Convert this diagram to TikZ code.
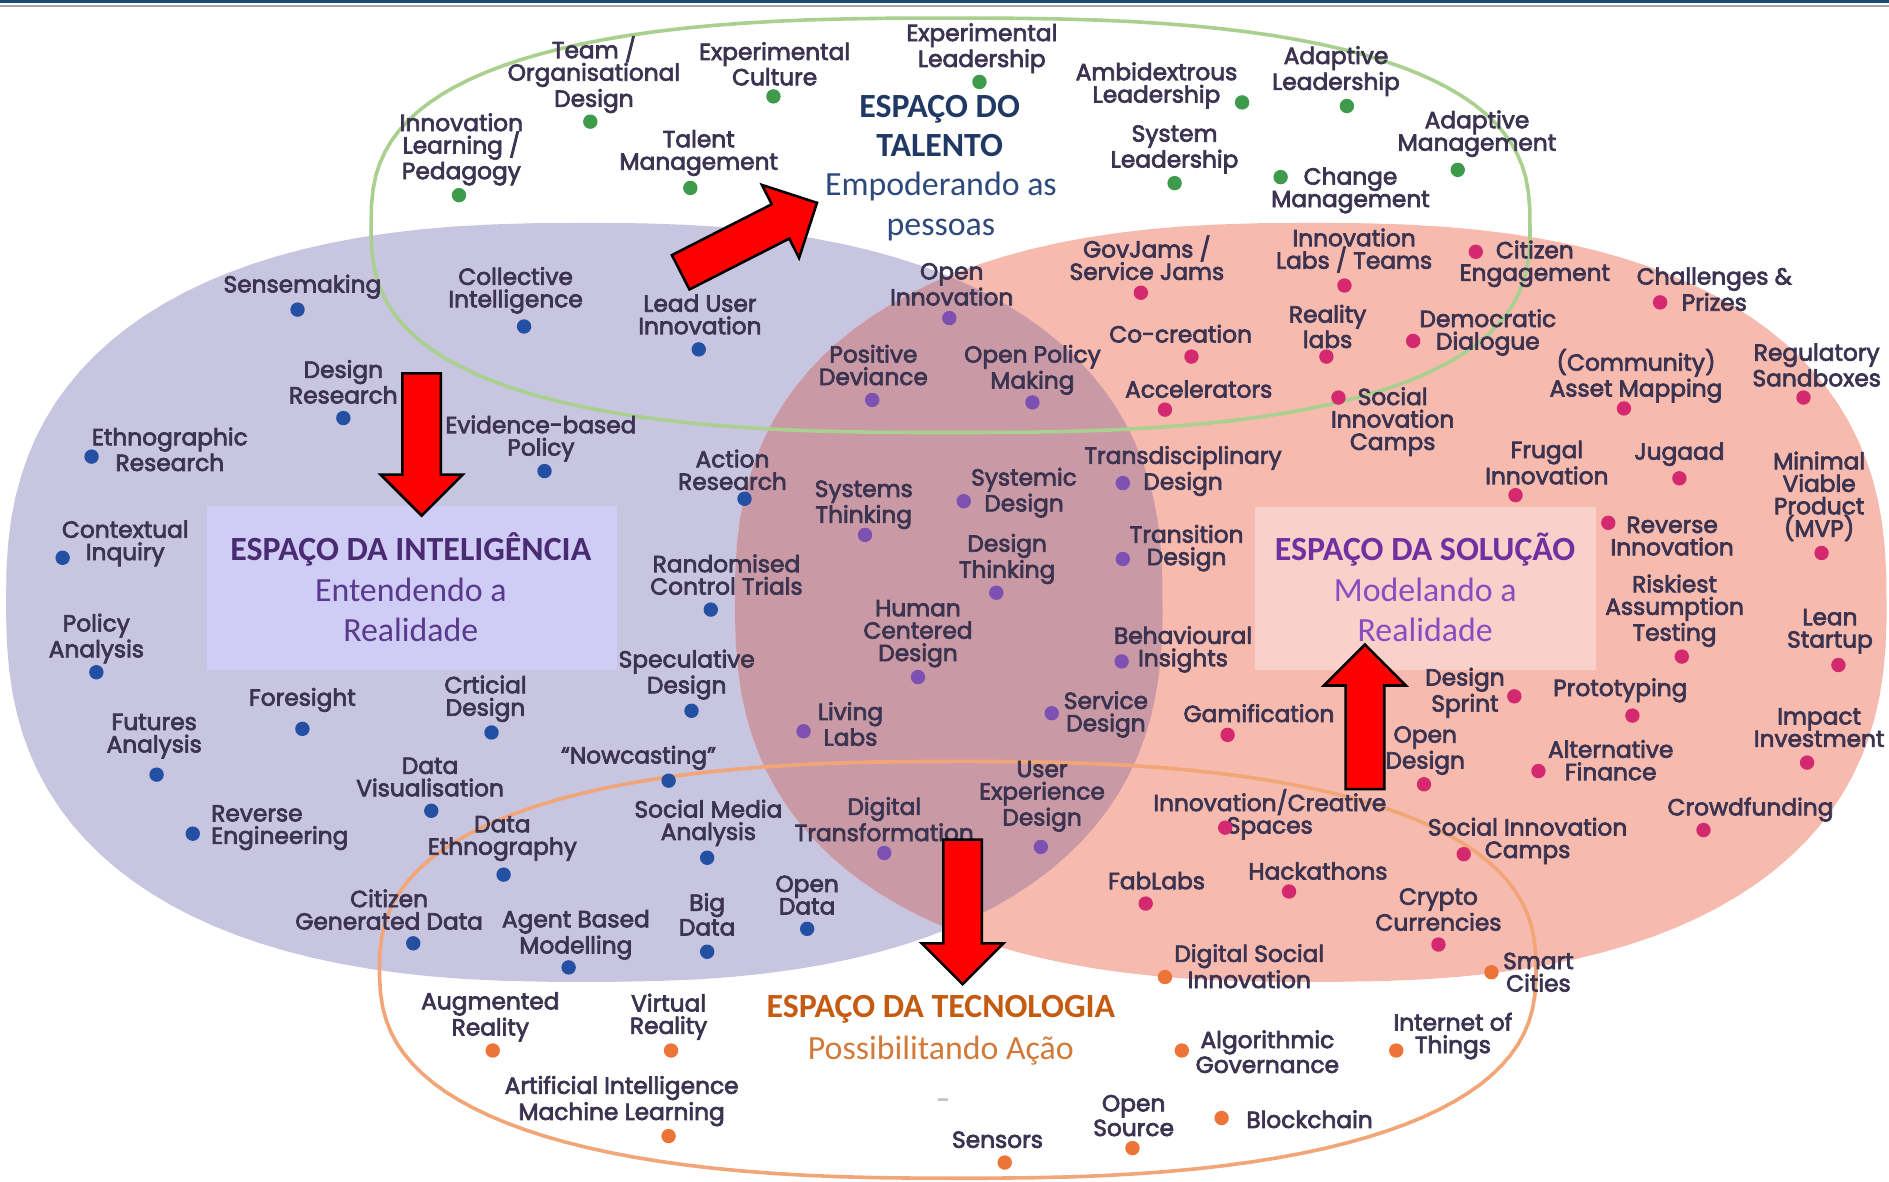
\documentclass[tikz,border=0pt]{standalone}
\usepackage{fontspec}
\setmainfont{Poppins}[FakeBold=3]
\newfontfamily\titlefont{Carlito}
\usepackage{tikz}
\usetikzlibrary{positioning}

\definecolor{ink}{HTML}{3B3350}
\definecolor{lavblob}{HTML}{C7C5E0}
\definecolor{pinkblob}{HTML}{F6BAAF}
\definecolor{mixblob}{HTML}{C99AA5}
\definecolor{greenring}{HTML}{A9D08E}
\definecolor{orangering}{HTML}{F2A577}
\definecolor{dgreen}{HTML}{3F9B4C}
\definecolor{dblue}{HTML}{2450A4}
\definecolor{dpurple}{HTML}{7C51B2}
\definecolor{dpink}{HTML}{D5296F}
\definecolor{dorange}{HTML}{EC7436}
\definecolor{boxlav}{HTML}{CFCCF6}
\definecolor{boxpink}{HTML}{FAD0CA}
\definecolor{topnavy}{HTML}{1B4A72}
\definecolor{talentnavy}{HTML}{1F3864}
\definecolor{talentsub}{HTML}{2E4A7D}
\definecolor{intelcol}{HTML}{4A2B72}
\definecolor{intelsub}{HTML}{5A3A8C}
\definecolor{solcol}{HTML}{7030A0}
\definecolor{solsub}{HTML}{8A4CC0}
\definecolor{techcol}{HTML}{C55A11}
\definecolor{techsub}{HTML}{D27A3A}

\newcommand{\blob}[5]{plot[domain=1:361,samples=120,variable=\t]
  ({#1+#3*sign(cos(\t))*abs(cos(\t))^#5},{#2+#4*sign(sin(\t))*abs(sin(\t))^#5})}

\newcommand{\redarrow}[3]{%
  \begin{scope}[shift={(#1)},rotate=#2]
    \draw[bigarrow] (0,-16) -- (#3-34,-16) -- (#3-34,-34) -- (#3,0)
      -- (#3-34,34) -- (#3-34,16) -- (0,16) -- cycle;
  \end{scope}}

\tikzset{
  lbl/.style={font=\fontsize{11}{10.6}\selectfont, text=ink, align=center, inner sep=0pt},
  spot/.style={circle, fill=#1, inner sep=0pt, minimum size=6.8pt},
  ttl/.style={font=\titlefont\bfseries\fontsize{16}{18.7}\selectfont, align=center, inner sep=0pt},
  sub/.style={font=\titlefont\fontsize{16}{18.7}\selectfont, align=center, inner sep=0pt},
  bigarrow/.style={fill=red, draw=black, line width=1.2pt, line join=miter},
  ring/.style={draw=#1, line width=1.7pt}
}

\begin{document}
\begin{tikzpicture}[x=0.02cm,y=-0.02cm]

            \useasboundingbox (0,0) rectangle (1568,981);
            \fill[white] (0,0) rectangle (1568,981);
            \fill[topnavy] (0,0) rectangle (1568,2.5);
            \fill[gray!70] (0,4) rectangle (1568,5.5);

            \fill[lavblob] \blob{485}{500}{480}{315}{0.8} -- cycle;
            \fill[pinkblob] \blob{1088}{500}{478}{315}{0.8} -- cycle;
            \begin{scope}
              \clip \blob{485}{500}{480}{315}{0.8} -- cycle;
              \fill[mixblob] \blob{1088}{500}{478}{315}{0.8} -- cycle;
            \end{scope}

            \draw[ring=greenring] \blob{789}{187}{481}{172}{0.75} -- cycle;
            \draw[ring=orangering] \blob{795}{805}{480}{173}{0.8} -- cycle;

            \fill[boxlav] (172,420) rectangle (512,556);
            \fill[boxpink] (1042,421) rectangle (1325,556);

            \node[ttl, text=talentnavy] (ttalent) at (780,104.5) {ESPAÇO DO\\TALENTO};
            \node[sub, text=talentsub] (stalent) at (781,171.5) {Empoderando as\\pessoas};
            \node[ttl, text=intelcol] (tintel) at (341,456) {ESPAÇO DA INTELIGÊNCIA};
            \node[sub, text=intelsub] (sintel) at (341,506) {Entendendo a\\Realidade};
            \node[ttl, text=solcol] (tsol) at (1183,456) {ESPAÇO DA SOLUÇÃO};
            \node[sub, text=solsub] (ssol) at (1183,506) {Modelando a\\Realidade};
            \node[ttl, text=techcol] (ttech) at (781,838) {ESPAÇO DA TECNOLOGIA};
            \node[sub, text=techsub] (stech) at (781,872) {Possibilitando Ação};

            \node[lbl] (tmorg) at (493,62) {Team /\\Organisational\\Design};
            \node[lbl] (expcult) at (643,53) {Experimental\\Culture};
            \node[lbl] (explead) at (815,40) {Experimental\\Leadership};
            \node[lbl] (innlearn) at (383,124) {Innovation\\Learning /\\Pedagogy};
            \node[lbl] (talmgmt) at (580,127) {Talent\\Management};
            \node[lbl] (ambilead) at (960,71) {Ambidextrous\\Leadership};
            \node[lbl] (adaplead) at (1109,59) {Adaptive\\Leadership};
            \node[lbl] (syslead) at (975,124) {System\\Leadership};
            \node[lbl] (adapmgmt) at (1226,111) {Adaptive\\Management};
            \node[lbl] (chgmgmt) at (1121,158) {Change\\Management};

            \node[spot=dgreen] (tmorg-d) at (490,101) {};
            \node[spot=dgreen] (expcult-d) at (642,80) {};
            \node[spot=dgreen] (explead-d) at (813,68) {};
            \node[spot=dgreen] (innlearn-d) at (381,162) {};
            \node[spot=dgreen] (talmgmt-d) at (573,156) {};
            \node[spot=dgreen] (ambilead-d) at (1031,85) {};
            \node[spot=dgreen] (adaplead-d) at (1118,88) {};
            \node[spot=dgreen] (syslead-d) at (975,152) {};
            \node[spot=dgreen] (adapmgmt-d) at (1210,141) {};
            \node[spot=dgreen] (chgmgmt-d) at (1063,147) {};

            \node[lbl] (sense) at (251,238) {Sensemaking};
            \node[lbl] (collint) at (428,241) {Collective\\Intelligence};
            \node[lbl] (leaduser) at (581,261) {Lead User\\Innovation};
            \node[lbl] (desres) at (285,317) {Design\\Research};
            \node[lbl] (ethno) at (141,373) {Ethnographic\\Research};
            \node[lbl] (evid) at (449,364) {Evidence-based\\Policy};
            \node[lbl] (action) at (608,390) {Action\\Research};
            \node[lbl] (context) at (104,451) {Contextual\\Inquiry};
            \node[lbl] (rct) at (603,477) {Randomised\\Control Trials};
            \node[lbl] (polana) at (80,530) {Policy\\Analysis};
            \node[lbl] (specul) at (570,560) {Speculative\\Design};
            \node[lbl] (foresight) at (251,581) {Foresight};
            \node[lbl] (critdes) at (403,580) {Crticial\\Design};
            \node[lbl] (futures) at (128,611) {Futures\\Analysis};
            \node[lbl] (datavis) at (357,645) {Data\\Visualisation};
            \node[lbl] (nowcast) at (530,629) {“Nowcasting”};
            \node[lbl, align=left, anchor=west] (reveng) at (175,687) {Reverse\\Engineering};
            \node[lbl] (dataeth) at (417,696) {Data\\Ethnography};
            \node[lbl] (socmed) at (588,683) {Social Media\\Analysis};
            \node[lbl] (citgen) at (323,755) {Citizen\\Generated Data};
            \node[lbl] (agent) at (478,776) {Agent Based\\Modelling};
            \node[lbl] (bigdata) at (587,759) {Big\\Data};
            \node[lbl] (opendata) at (670,743) {Open\\Data};

            \node[spot=dblue] (sense-d) at (247,257) {};
            \node[spot=dblue] (collint-d) at (435,271) {};
            \node[spot=dblue] (leaduser-d) at (580,290) {};
            \node[spot=dblue] (desres-d) at (285,347) {};
            \node[spot=dblue] (ethno-d) at (76,379) {};
            \node[spot=dblue] (evid-d) at (452,391) {};
            \node[spot=dblue] (action-d) at (618,414) {};
            \node[spot=dblue] (context-d) at (52,463) {};
            \node[spot=dblue] (rct-d) at (590,506) {};
            \node[spot=dblue] (polana-d) at (80,558) {};
            \node[spot=dblue] (specul-d) at (574,590) {};
            \node[spot=dblue] (foresight-d) at (251,605) {};
            \node[spot=dblue] (critdes-d) at (408,608) {};
            \node[spot=dblue] (futures-d) at (130,643) {};
            \node[spot=dblue] (datavis-d) at (358,673) {};
            \node[spot=dblue] (nowcast-d) at (555,648) {};
            \node[spot=dblue] (reveng-d) at (160,692) {};
            \node[spot=dblue] (dataeth-d) at (418,726) {};
            \node[spot=dblue] (socmed-d) at (587,712) {};
            \node[spot=dblue] (citgen-d) at (343,783) {};
            \node[spot=dblue] (agent-d) at (472,803) {};
            \node[spot=dblue] (bigdata-d) at (587,790) {};
            \node[spot=dblue] (opendata-d) at (670,771) {};

            \node[lbl] (openinn) at (790,236) {Open\\Innovation};
            \node[lbl] (posdev) at (725,303) {Positive\\Deviance};
            \node[lbl] (openpol) at (857,307) {Open Policy\\Making};
            \node[lbl] (systhink) at (717,419) {Systems\\Thinking};
            \node[lbl] (sysdes) at (850,409) {Systemic\\Design};
            \node[lbl] (transdis) at (982,391) {Transdisciplinary\\Design};
            \node[lbl] (desthink) at (836,464) {Design\\Thinking};
            \node[lbl] (transit) at (985,455) {Transition\\Design};
            \node[lbl] (hcd) at (762,526) {Human\\Centered\\Design};
            \node[lbl] (behav) at (982,539) {Behavioural\\Insights};
            \node[lbl] (living) at (706,601) {Living\\Labs};
            \node[lbl] (service) at (918,593) {Service\\Design};
            \node[lbl] (digtrans) at (734,680) {Digital\\Transformation};
            \node[lbl] (uxd) at (865,661) {User\\Experience\\Design};

            \node[spot=dpurple] (openinn-d) at (788,264) {};
            \node[spot=dpurple] (posdev-d) at (724,332) {};
            \node[spot=dpurple] (openpol-d) at (857,334) {};
            \node[spot=dpurple] (systhink-d) at (718,444) {};
            \node[spot=dpurple] (sysdes-d) at (800,416) {};
            \node[spot=dpurple] (transdis-d) at (932,401) {};
            \node[spot=dpurple] (desthink-d) at (827,492) {};
            \node[spot=dpurple] (transit-d) at (932,464) {};
            \node[spot=dpurple] (hcd-d) at (762,562) {};
            \node[spot=dpurple] (behav-d) at (931,549) {};
            \node[spot=dpurple] (living-d) at (667,607) {};
            \node[spot=dpurple] (service-d) at (873,592) {};
            \node[spot=dpurple] (digtrans-d) at (734,708) {};
            \node[spot=dpurple] (uxd-d) at (864,703) {};

            \node[lbl] (govjams) at (952,214) {GovJams /\\Service Jams};
            \node[lbl] (innlabs) at (1124,208) {Innovation\\Labs / Teams};
            \node[lbl] (citeng) at (1274,219) {Citizen\\Engagement};
            \node[lbl] (challng) at (1423,240) {Challenges \&\\Prizes};
            \node[lbl] (cocre) at (980,277) {Co-creation};
            \node[lbl] (reallabs) at (1102,271) {Reality\\labs};
            \node[lbl] (democ) at (1235,276) {Democratic\\Dialogue};
            \node[lbl] (accel) at (995,323) {Accelerators};
            \node[lbl] (sicamps) at (1156,350) {Social\\Innovation\\Camps};
            \node[lbl] (asset) at (1358,312) {(Community)\\Asset Mapping};
            \node[lbl] (regsand) at (1508,303) {Regulatory\\Sandboxes};
            \node[lbl] (frugal) at (1284,384) {Frugal\\Innovation};
            \node[lbl] (jugaad) at (1394,377) {Jugaad};
            \node[lbl] (mvp) at (1510,412) {Minimal\\Viable\\Product\\(MVP)};
            \node[lbl] (revinn) at (1388,445) {Reverse\\Innovation};
            \node[lbl] (riskiest) at (1390,507) {Riskiest\\Assumption\\Testing};
            \node[lbl] (lean) at (1519,524) {Lean\\Startup};
            \node[lbl] (sprint) at (1216,575) {Design\\Sprint};
            \node[lbl] (proto) at (1345,573) {Prototyping};
            \node[lbl] (gamif) at (1045,592) {Gamification};
            \node[lbl] (impact) at (1510,604) {Impact\\Investment};
            \node[lbl] (opendes) at (1183,623) {Open\\Design};
            \node[lbl] (altfin) at (1337,631) {Alternative\\Finance};
            \node[lbl] (crowd) at (1453,672) {Crowdfunding};
            \node[lbl] (innspace) at (1054,676) {Innovation/Creative\\Spaces};
            \node[lbl] (sicamps2) at (1268,698) {Social Innovation\\Camps};
            \node[lbl] (fablabs) at (960,731) {FabLabs};
            \node[lbl] (hack) at (1094,723) {Hackathons};
            \node[lbl] (crypto) at (1194,755) {Crypto\\Currencies};

            \node[spot=dpink] (govjams-d) at (947,243) {};
            \node[spot=dpink] (innlabs-d) at (1116,237) {};
            \node[spot=dpink] (citeng-d) at (1225,209) {};
            \node[spot=dpink] (challng-d) at (1378,251) {};
            \node[spot=dpink] (cocre-d) at (989,296) {};
            \node[spot=dpink] (reallabs-d) at (1101,296) {};
            \node[spot=dpink] (democ-d) at (1173,283) {};
            \node[spot=dpink] (accel-d) at (967,340) {};
            \node[spot=dpink] (sicamps-d) at (1111,330) {};
            \node[spot=dpink] (asset-d) at (1348,339) {};
            \node[spot=dpink] (regsand-d) at (1497,330) {};
            \node[spot=dpink] (frugal-d) at (1258,411) {};
            \node[spot=dpink] (jugaad-d) at (1394,397) {};
            \node[spot=dpink] (mvp-d) at (1512,459) {};
            \node[spot=dpink] (revinn-d) at (1335,434) {};
            \node[spot=dpink] (riskiest-d) at (1396,545) {};
            \node[spot=dpink] (lean-d) at (1526,552) {};
            \node[spot=dpink] (sprint-d) at (1257,578) {};
            \node[spot=dpink] (proto-d) at (1355,594) {};
            \node[spot=dpink] (gamif-d) at (1019,610) {};
            \node[spot=dpink] (impact-d) at (1500,633) {};
            \node[spot=dpink] (opendes-d) at (1182,651) {};
            \node[spot=dpink] (altfin-d) at (1277,640) {};
            \node[spot=dpink] (crowd-d) at (1414,689) {};
            \node[spot=dpink] (innspace-d) at (1017,687) {};
            \node[spot=dpink] (sicamps2-d) at (1215,709) {};
            \node[spot=dpink] (fablabs-d) at (951,750) {};
            \node[spot=dpink] (hack-d) at (1070,740) {};
            \node[spot=dpink] (crypto-d) at (1194,784) {};

            \node[lbl] (digsoc) at (1037,802) {Digital Social\\Innovation};
            \node[lbl] (smart) at (1277,807) {Smart\\Cities};
            \node[lbl] (augreal) at (407,844) {Augmented\\Reality};
            \node[lbl] (virreal) at (555,844) {Virtual\\Reality};
            \node[lbl] (algo) at (1052,873) {Algorithmic\\Governance};
            \node[lbl] (iot) at (1206,860) {Internet of\\Things};
            \node[lbl] (aiml) at (516,914) {Artificial Intelligence\\Machine Learning};
            \node[lbl] (opensrc) at (941,926) {Open\\Source};
            \node[lbl] (blockch) at (1087,929) {Blockchain};
            \node[lbl] (sensors) at (828,946) {Sensors};
            \node[lbl, text=gray!50] (dash) at (783,916) {-};

            \node[spot=dorange] (digsoc-d) at (967,811) {};
            \node[spot=dorange] (smart-d) at (1238,807) {};
            \node[spot=dorange] (augreal-d) at (409,872) {};
            \node[spot=dorange] (virreal-d) at (557,872) {};
            \node[spot=dorange] (algo-d) at (981,872) {};
            \node[spot=dorange] (iot-d) at (1159,872) {};
            \node[spot=dorange] (aiml-d) at (555,943) {};
            \node[spot=dorange] (opensrc-d) at (940,953) {};
            \node[spot=dorange] (blockch-d) at (1014,928) {};
            \node[spot=dorange] (sensors-d) at (834,965) {};

            \redarrow{565,226}{27}{127}
            \redarrow{350,310}{-90}{118}
            \redarrow{1133,655}{90}{120}
            \redarrow{799,697}{-90}{120}
        \end{tikzpicture}
\end{document}
